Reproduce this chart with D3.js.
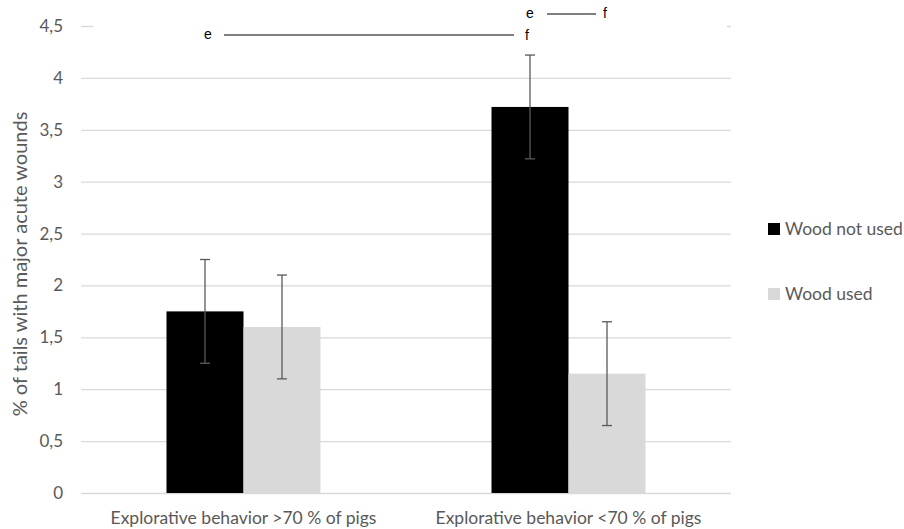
<!DOCTYPE html>
<html><head><meta charset="utf-8">
<script src="https://cdn.jsdelivr.net/npm/d3@7"></script>
<style>body{margin:0;background:#fff}svg{display:block}</style>
</head><body>
<script>
const categories = ["Explorative behavior >70 % of pigs", "Explorative behavior <70 % of pigs"];
const seriesNames = ["Wood not used", "Wood used"];
const woodNotUsed = [1.75, 3.72];
const woodUsed = [1.6, 1.15];
const errNotUsed = [0.5, 0.5];
const errUsed = [0.5, 0.5];
const yTicks = [0, 0.5, 1, 1.5, 2, 2.5, 3, 3.5, 4, 4.5];
const yTitle = "% of tails with major acute wounds";

(function () {
const W = 904, H = 529;
const svg = d3.select("body").append("svg").attr("width", W).attr("height", H);
const font = "Lato, 'Open Sans', sans-serif";
const pLeft = 81, pRight = 731, pTop = 26, pBottom = 493;
const txt = "#595959";

const y = d3.scaleLinear().domain([0, 4.5]).range([pBottom, pTop]);
const x0 = d3.scaleBand().domain(categories).range([pLeft, pRight]).paddingInner(0).paddingOuter(0);
const x1 = d3.scaleBand().domain(seriesNames).range([0, 154]);
const colors = {"Wood not used": "#000000", "Wood used": "#d9d9d9"};

// gridlines
const yAxis = d3.axisLeft(y).tickValues(yTicks).tickSize(-(pRight - pLeft))
  .tickFormat(d => String(d).replace(".", ","));
const ga = svg.append("g").attr("transform", `translate(${pLeft},0)`).call(yAxis);
ga.select(".domain").remove();
ga.selectAll(".tick line").attr("stroke", "#d9d9d9").attr("stroke-width", 1.3);
ga.selectAll(".tick text").attr("x", -18).attr("fill", txt)
  .style("font-family", font).style("font-size", "17px");

// white cover over the top gridline (annotation area)
svg.append("rect").attr("x", pLeft + 12).attr("y", y(4.5) - 4).attr("width", pRight - pLeft - 16).attr("height", 8).attr("fill", "#fff");

// bars
const data = categories.map((c, i) => ({
  cat: c,
  vals: [
    {s: seriesNames[0], v: woodNotUsed[i], e: errNotUsed[i]},
    {s: seriesNames[1], v: woodUsed[i], e: errUsed[i]}
  ]
}));
const g = svg.selectAll(".grp").data(data).enter().append("g")
  .attr("transform", d => `translate(${x0(d.cat) + x0.bandwidth() / 2 - 77},0)`);
g.selectAll("rect").data(d => d.vals).enter().append("rect")
  .attr("x", d => x1(d.s)).attr("width", x1.bandwidth())
  .attr("y", d => y(d.v)).attr("height", d => y(0) - y(d.v))
  .attr("fill", d => colors[d.s]);
// error bars
const eb = g.selectAll(".eb").data(d => d.vals).enter().append("g").attr("class", "eb")
  .attr("stroke", "#595959").attr("stroke-width", 1.3);
eb.append("line").attr("x1", d => x1(d.s) + x1.bandwidth() / 2).attr("x2", d => x1(d.s) + x1.bandwidth() / 2)
  .attr("y1", d => y(d.v + d.e)).attr("y2", d => y(d.v - d.e));
[1, -1].forEach(sign => {
  eb.append("line").attr("x1", d => x1(d.s) + x1.bandwidth() / 2 - 5).attr("x2", d => x1(d.s) + x1.bandwidth() / 2 + 5)
    .attr("y1", d => y(d.v + sign * d.e)).attr("y2", d => y(d.v + sign * d.e));
});

// category labels
svg.selectAll(".cat").data(categories).enter().append("text")
  .attr("x", d => x0(d) + x0.bandwidth() / 2).attr("y", 524)
  .attr("text-anchor", "middle").attr("fill", txt)
  .style("font-family", font).style("font-size", "17.5px").text(d => d);

// y title
svg.append("text").attr("transform", `translate(27,${264}) rotate(-90)`)
  .attr("text-anchor", "middle").attr("fill", txt)
  .style("font-family", font).style("font-size", "20px").text(yTitle);

// significance annotations
const ann = svg.append("g").style("font-family", "'Liberation Sans', Arial, sans-serif").style("font-size", "14px").attr("fill", "#000");
ann.append("text").attr("x", 204).attr("y", 39).text("e");
ann.append("line").attr("x1", 224).attr("x2", 514).attr("y1", 35).attr("y2", 35).attr("stroke", "#000").attr("stroke-width", 1);
ann.append("text").attr("x", 525).attr("y", 40).text("f");
ann.append("text").attr("x", 526).attr("y", 18).text("e");
ann.append("line").attr("x1", 547).attr("x2", 596).attr("y1", 14).attr("y2", 14).attr("stroke", "#000").attr("stroke-width", 1);
ann.append("text").attr("x", 603).attr("y", 18).text("f");

// legend
const lg = svg.selectAll(".lg").data(seriesNames).enter().append("g")
  .attr("transform", (d, i) => `translate(768,${223 + i * 65})`);
lg.append("rect").attr("width", 12).attr("height", 12).attr("fill", d => colors[d]);
lg.append("text").attr("x", 17).attr("y", 12).attr("fill", txt)
  .style("font-family", font).style("font-size", "17.5px").text(d => d);
})();
</script>
</body></html>
